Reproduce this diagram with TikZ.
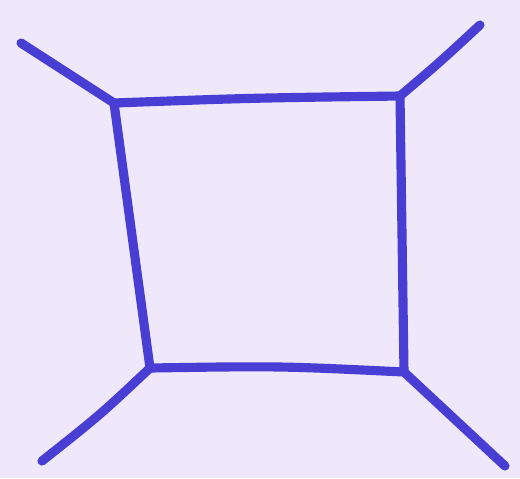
\documentclass[tikz,border=0pt]{standalone}
\usetikzlibrary{calc}
\definecolor{paper}{RGB}{238,232,250}
\definecolor{marker}{RGB}{72,62,212}
\tikzset{
  pen/.style={draw=marker,line width=5.2pt,line cap=round,line join=round},
}
\begin{document}
\begin{tikzpicture}[x=0.02cm,y=-0.02cm]
  \fill[paper] (0,0) rectangle (520,478);
  \useasboundingbox (0,0) rectangle (520,478);
  % corners of the square
  \coordinate (tl) at (114,103);
  \coordinate (tr) at (400,96);
  \coordinate (br) at (404,372);
  \coordinate (bl) at (150,368);
  % free ends of the legs
  \coordinate (tlend) at (21,43);
  \coordinate (trend) at (480,25);
  \coordinate (blend) at (42,461);
  \coordinate (brend) at (505,466);
  % square
  \draw[pen] (tl) .. controls (250,98) .. (tr) -- (br) .. controls (280,366) .. (bl) -- cycle;
  % legs
  \draw[pen] (tl) -- (tlend);
  \draw[pen] (tr) .. controls (440,62) .. (trend);
  \draw[pen] (bl) .. controls (100,415) .. (blend);
  \draw[pen] (br) -- (brend);
\end{tikzpicture}
\end{document}
